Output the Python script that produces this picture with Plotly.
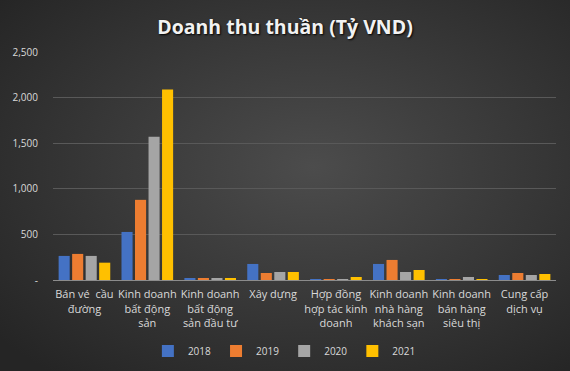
import base64
import plotly.graph_objects as go

categories = [
    "Bán vé  cầu<br>đường",
    "Kinh doanh<br>bất động<br>sản",
    "Kinh doanh<br>bất động<br>sản đầu tư",
    "Xây dựng",
    "Hợp đồng<br>hợp tác kinh<br>doanh",
    "Kinh doanh<br>nhà hàng<br>khách sạn",
    "Kinh doanh<br>bán hàng<br>siêu thị",
    "Cung cấp<br>dịch vụ",
]
v2018 = [264, 527, 22, 176, 8, 176, 8, 55]
v2019 = [286, 879, 22, 77, 8, 220, 8, 77]
v2020 = [264, 1571, 22, 88, 10, 88, 33, 55]
v2021 = [190, 2088, 22, 88, 33, 110, 5, 66]
years = ["2018", "2019", "2020", "2021"]
colors = ["#4472C4", "#ED7D31", "#A5A5A5", "#FFC000"]
tick_vals = [0, 500, 1000, 1500, 2000, 2500]
tick_text = ["-", "500", "1,000", "1,500", "2,000", "2,500"]

W, H = 570, 371
ML, MR, MT, MB = 53, 14, 52, 91
PW, PH = W - ML - MR, H - MT - MB

svg = (
    '<svg xmlns="http://www.w3.org/2000/svg" width="570" height="371">'
    '<defs><radialGradient id="g" cx="0.55" cy="0.45" r="0.72">'
    '<stop offset="0" stop-color="#4c4c4c"/>'
    '<stop offset="1" stop-color="#252525"/>'
    '</radialGradient></defs>'
    '<rect width="570" height="371" fill="url(#g)"/></svg>'
)
bg_uri = "data:image/svg+xml;base64," + base64.b64encode(svg.encode()).decode()

fig = go.Figure()
for name, vals, col in zip(years, [v2018, v2019, v2020, v2021], colors):
    fig.add_trace(go.Bar(x=categories, y=vals, name=name, marker=dict(color=col, line=dict(width=0))))

fig.update_layout(
    width=W,
    height=H,
    margin=dict(l=ML, r=MR, t=MT, b=MB, autoexpand=False),
    paper_bgcolor="#363636",
    plot_bgcolor="rgba(0,0,0,0)",
    images=[dict(source=bg_uri, xref="paper", yref="paper",
                 x=-ML / PW, y=1 + MT / PH, sizex=W / PW, sizey=H / PH,
                 xanchor="left", yanchor="top", sizing="stretch", layer="below")],
    title=dict(
        text="<b>Doanh thu thuần (Tỷ VND)</b>",
        x=0.5, xanchor="center", y=1 - 27 / H, yanchor="middle",
        font=dict(family="Open Sans", size=19.5, color="#f2f2f2", shadow="1px 1px 2px #000"),
    ),
    barmode="group",
    bargap=0.14,
    bargroupgap=0.18,
    font=dict(family="Open Sans", color="#d9d9d9"),
    legend=dict(orientation="h", x=0.46, xanchor="center", y=(280 - 351) / PH, yanchor="middle",
                font=dict(size=10, color="#d9d9d9"), bgcolor="rgba(0,0,0,0)",
                itemwidth=30),
    showlegend=True,
)
fig.update_yaxes(
    range=[0, 2500],
    tickvals=tick_vals,
    ticktext=tick_text,
    gridcolor="#595959",
    gridwidth=1,
    zeroline=False,
    showline=False,
    tickfont=dict(size=10, color="#d9d9d9"),
    ticks="",
    ticklabelstandoff=14,
    automargin=False,
)
fig.update_xaxes(
    showline=True,
    linecolor="#8c8c8c",
    linewidth=1,
    tickfont=dict(size=11, color="#d9d9d9"),
    ticks="",
    tickangle=0,
    ticklabelstandoff=4,
    automargin=False,
)
fig.write_html("out.html", config={"displayModeBar": False},
               post_script="document.body.style.margin='0';")
